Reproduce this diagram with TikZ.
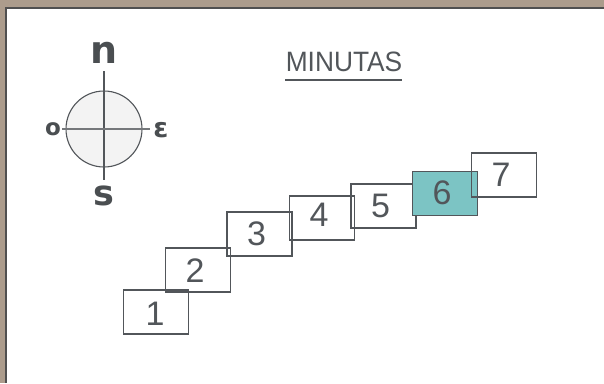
\documentclass[tikz,border=0pt]{standalone}
\usepackage{fontspec}
\setmainfont{Liberation Sans}
\newfontfamily\compassfont{DejaVu Sans}
\definecolor{frameb}{RGB}{172,156,140}
\definecolor{frameline}{RGB}{80,80,80}
\definecolor{ink}{RGB}{82,86,90}
\definecolor{teal6}{RGB}{124,196,196}
\definecolor{discfill}{RGB}{243,243,243}
\tikzset{
  numbox/.style={draw=ink, line width=1.4pt, minimum width=65pt, minimum height=44pt, inner sep=0pt, text=ink},
  numtext/.style={text=ink, inner sep=0pt, font=\fontsize{34}{34}\selectfont},
  compassletter/.style={text=ink!90!black, inner sep=0pt},
  axis/.style={draw=ink, line width=1.1pt}
}
\begin{document}
\begin{tikzpicture}[x=1pt,y=-1pt]
\useasboundingbox (0,0) rectangle (604,383);
% frame
\fill[frameb] (0,0) rectangle (604,383);
\fill[white] (7,9) rectangle (604,383);
\draw[frameline, line width=2pt] (6,383) -- (6,8) -- (604,8);
% title
\node[text=ink, font=\fontsize{28}{28}\selectfont, inner sep=0pt, xscale=0.94] (title) at (344,62) {MINUTAS};
\coordinate (ulL) at (285,80);
\coordinate (ulR) at (402,80);
\draw[ink, line width=1.4pt] (ulL) -- (ulR);
% compass
\node[circle, draw=ink, fill=discfill, line width=1.1pt, minimum size=76pt, inner sep=0pt] (disc) at (104,129) {};
\coordinate (ctop) at (104,71);
\coordinate (cbot) at (104,180);
\coordinate (cleft) at (62,129);
\coordinate (cright) at (150,129);
\draw[axis] (ctop) -- (cbot);
\draw[axis, draw=ink!80, line width=1.6pt] (cleft) -- (cright);
\node[compassletter, font=\compassfont\bfseries\fontsize{38}{38}\selectfont] (n) at (104,53) {n};
\node[compassletter, font=\compassfont\bfseries\fontsize{23}{23}\selectfont] (o) at (53,129) {o};
\node[compassletter, font=\compassfont\bfseries\fontsize{27}{27}\selectfont] (e) at (161,130) {ɛ};
\node[compassletter, font=\compassfont\bfseries\fontsize{35}{35}\selectfont] (s) at (104,196) {s};
% boxes
\node[numbox] (b1) at (156,312) {};
\node[numbox] (b2) at (198,270) {};
\node[numbox] (b3) at (259.5,234) {};
\node[numbox] (b4) at (322,218) {};
\node[numbox] (b5) at (383.5,206) {};
\node[numbox, fill=teal6] (b6) at (445,193.5) {};
\node[numbox] (b7) at (504,175) {};
\node[numtext] (t1) at ([xshift=-1pt,yshift=-1.5pt]b1.center) {1};
\node[numtext] (t2) at ([xshift=-3pt,yshift=-0.5pt]b2.center) {2};
\node[numtext] (t3) at ([xshift=-3pt]b3.center) {3};
\node[numtext] (t4) at ([xshift=-3pt,yshift=3pt]b4.center) {4};
\node[numtext] (t5) at ([xshift=-3pt]b5.center) {5};
\node[numtext] (t6) at ([xshift=-3pt,yshift=0.5pt]b6.center) {6};
\node[numtext] (t7) at ([xshift=-3pt,yshift=0.5pt]b7.center) {7};
\end{tikzpicture}
\end{document}
